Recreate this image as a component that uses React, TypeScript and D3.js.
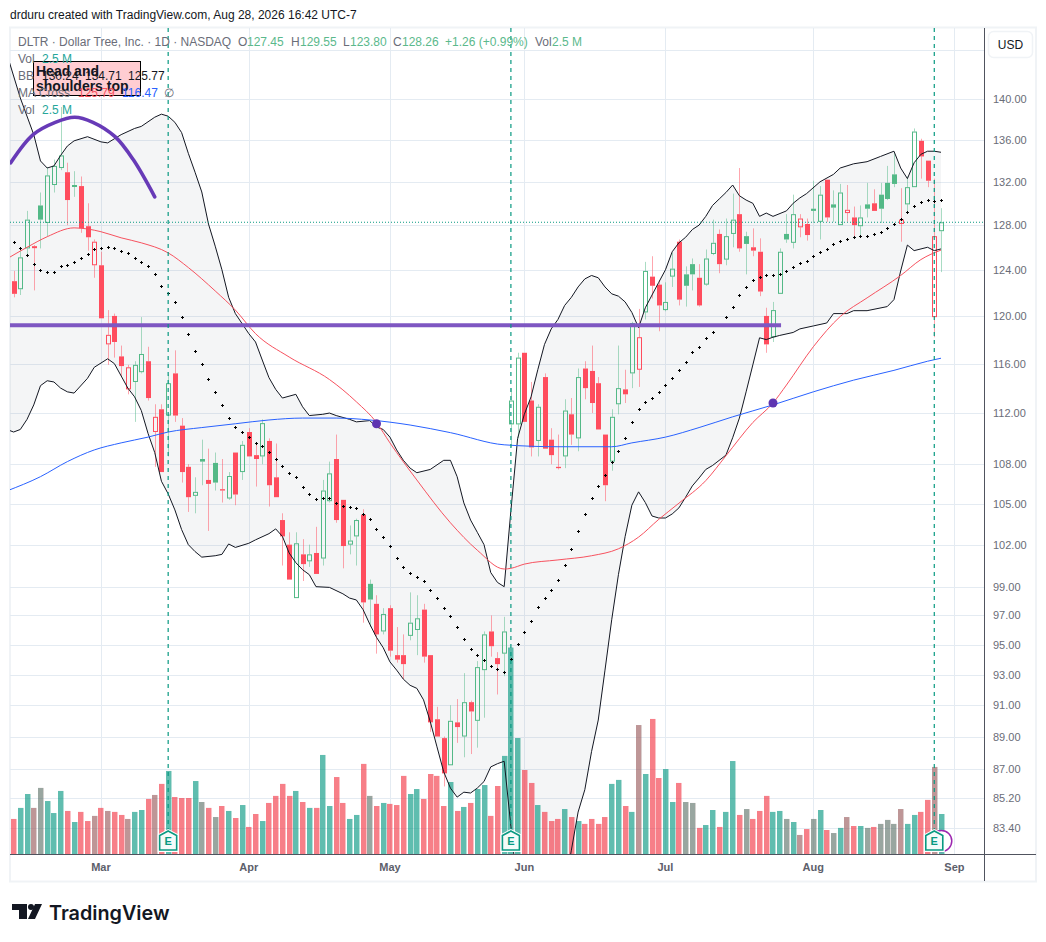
import React from "react";
import * as d3 from "d3";

const opens = [123.0,122.3,125.9,126.0,129.8,128.2,131.7,133.3,132.9,131.6,131.6,127.9,124.4,124.4,117.6,120.0,116.6,113.9,114.5,115.3,116.2,110.5,112.3,111.8,115.2,111.0,107.8,105.6,108.4,106.8,108.1,106.1,105.4,108.9,107.4,110.5,108.7,108.6,109.8,107.0,103.8,102.0,98.2,101.3,100.8,101.4,101.0,105.2,108.4,105.3,102.0,102.6,104.2,99.2,97.8,95.9,97.5,94.3,94.3,95.6,96.0,97.4,94.3,90.1,88.9,87.2,89.9,89.0,91.2,90.0,93.3,95.9,94.1,94.4,111.1,111.1,116.9,113.0,109.8,114.9,109.9,107.8,108.6,111.9,110.0,115.6,115.4,114.4,110.3,108.2,112.7,113.9,115.2,115.5,120.3,123.4,122.7,120.5,123.4,126.5,123.6,124.5,123.3,122.7,125.4,127.2,124.9,127.2,129.0,127.0,126.0,125.6,120.0,118.2,121.9,127.2,126.4,127.8,128.1,129.5,128.3,132.2,129.9,128.0,129.1,128.7,127.9,129.9,130.0,130.8,131.9,132.7,128.1,129.9,131.5,135.9,134.0,119.9,127.45];
const highs = [123.9,125.9,129.3,126.2,131.0,133.4,134.1,139.2,133.8,133.0,132.5,130.0,126.7,125.6,120.5,120.2,117.5,115.9,116.2,119.9,117.4,112.7,112.7,115.1,117.1,111.6,108.0,107.0,109.9,109.2,108.9,108.4,107.4,108.9,109.8,110.8,109.7,111.5,110.0,109.6,104.3,102.9,102.9,102.4,102.0,103.3,106.8,108.2,110.3,105.3,103.4,103.9,104.6,99.5,98.4,97.5,97.7,96.2,95.7,98.6,98.4,97.8,94.3,90.9,89.0,91.0,91.4,93.1,91.3,93.9,95.9,97.0,94.5,96.9,114.0,116.9,116.9,114.5,112.7,115.2,110.8,110.3,113.1,113.2,115.6,116.2,117.5,114.9,110.3,112.3,117.5,115.5,119.5,120.6,124.7,125.2,123.1,122.9,125.5,126.7,124.3,125.0,124.5,125.8,128.5,127.6,128.6,130.9,133.3,127.4,127.7,126.8,120.7,121.2,125.9,129.0,130.8,129.0,128.6,132.1,131.6,132.2,131.2,131.8,131.7,129.7,129.8,131.9,131.3,131.9,133.5,134.7,131.4,132.5,137.1,136.1,134.0,132.3,129.55];
const lows = [121.6,121.8,125.3,122.2,125.9,127.0,131.0,133.1,128.0,130.6,127.3,125.7,123.3,119.8,115.9,116.5,114.9,113.5,111.3,115.2,113.0,107.8,107.4,108.6,111.3,106.6,104.4,104.3,106.4,103.0,106.0,105.1,105.3,104.9,106.8,108.6,106.3,108.0,104.8,105.5,100.5,99.5,98.2,99.4,100.4,99.9,100.5,105.1,103.6,100.3,101.3,100.5,96.5,96.2,94.4,95.7,94.2,93.8,92.7,95.3,94.3,93.8,89.3,89.0,85.9,87.2,88.6,87.7,87.9,88.3,90.2,94.2,91.7,92.9,109.3,110.0,111.3,108.6,108.6,109.2,108.0,107.6,107.7,109.5,109.0,113.1,112.0,110.7,105.2,107.5,111.9,112.8,114.0,114.1,119.7,121.5,118.7,120.4,122.5,120.9,120.8,122.2,120.8,122.6,125.3,123.7,124.4,126.0,125.6,123.6,125.2,121.7,116.9,117.8,121.9,126.4,125.9,126.9,126.6,128.2,126.7,128.3,128.3,128.0,128.3,127.0,127.1,128.7,129.3,128.2,130.3,131.5,126.5,129.1,131.5,132.3,131.5,118.2,123.80];
const closes = [121.9,125.1,128.5,126.1,128.5,132.6,133.5,134.5,130.3,131.7,127.7,126.9,126.5,119.8,118.4,117.8,115.8,115.7,115.9,116.8,113.2,111.7,107.4,114.4,111.8,107.4,105.5,105.9,108.2,106.5,106.6,106.0,107.1,105.7,109.5,108.6,108.4,111.2,106.4,105.5,102.6,99.5,102.1,100.6,101.3,99.9,106.0,107.3,103.8,101.9,102.3,103.8,97.9,98.1,95.7,97.1,94.6,94.0,93.7,96.5,96.8,94.2,89.9,89.0,86.7,90.0,89.6,91.2,90.6,93.5,95.7,94.9,93.7,95.9,113.0,116.5,111.3,109.3,112.5,109.2,108.7,107.7,112.2,110.3,114.9,114.0,112.8,110.7,106.4,111.7,114.0,113.5,119.4,118.2,123.9,122.6,120.9,121.2,124.1,121.4,122.6,123.6,120.9,125.0,126.4,124.5,127.0,128.5,125.9,126.3,125.7,122.1,117.6,120.5,125.6,126.7,129.0,128.6,127.1,129.3,130.8,128.7,129.6,131.0,129.4,128.0,128.7,129.5,129.3,129.5,130.4,131.8,128.5,131.5,136.8,134.4,132.1,127.0,128.26];
const volumesM = [2.19,2.88,3.75,2.88,4.13,3.31,2.56,3.94,2.69,2.0,2.63,2.06,2.38,2.88,2.69,2.63,2.44,2.19,2.63,2.75,3.44,3.69,4.38,5.19,3.56,3.5,3.5,4.56,3.25,2.88,2.31,3.0,2.69,2.25,3.06,1.69,2.5,2.06,3.19,3.63,4.38,3.63,3.94,3.25,2.88,2.88,6.19,3.0,4.81,3.19,2.19,2.44,5.63,3.63,3.0,3.19,3.13,3.06,4.88,3.75,4.06,3.44,5.0,4.88,3.0,4.5,2.69,2.94,3.19,4.06,4.31,2.38,4.25,6.13,12.9,7.25,5.25,4.44,3.06,2.63,2.06,2.19,2.81,2.31,2.06,1.88,2.19,1.88,2.31,4.38,4.63,3.0,2.63,8.06,5.0,8.44,4.75,5.31,3.25,4.44,3.25,3.19,1.63,1.81,2.75,1.69,2.63,5.81,2.44,2.81,2.19,2.69,3.63,2.63,2.69,2.19,2.0,1.19,1.56,2.19,2.75,1.5,1.31,1.63,2.31,1.75,1.75,1.63,1.69,1.88,2.13,1.88,2.81,1.88,2.44,2.63,3.38,5.44,2.5];

const bbMiddle = [126.48,125.94,125.32,124.5,123.96,123.78,123.78,124.36,124.45,124.7,125.06,125.41,125.85,125.94,126.03,125.94,125.67,125.5,125.06,124.7,124.36,123.65,122.6,122,121.2,119.9,118.5,117.05,116,114.75,113.7,112.65,111.6,110.9,110.5,110.1,109.65,109.4,108.95,108.4,107.9,107.3,107,106.3,105.75,105.35,105.45,105.45,105.05,104.85,104.75,104.7,104.25,103.9,103.15,102.55,101.9,101.05,100.4,99.95,99.7,99.4,98.8,98.2,97.5,96.95,96.2,95.4,94.7,94.3,94,93.55,93.35,93.2,94.05,95.05,95.85,96.6,97.6,98.2,98.8,99.5,100.55,101.7,103,104.25,105.45,106.35,107.2,108.15,109,110,111.25,112.35,112.9,113.2,113.7,114.25,114.8,115.45,116.15,116.95,117.4,118.15,118.65,119.25,119.9,120.8,121.8,122.5,123.1,123.4,123.5,123.55,123.65,123.9,124.25,124.6,124.8,125.25,125.6,125.85,126.3,126.55,126.75,126.95,127.05,127.05,127.2,127.4,127.7,128.1,128.6,129.2,129.75,130.15,130.3,130.2,130.3];

const upperBars = [-1,1,3,4,5,6,7,8,9,11,13,14,16,18,19,21,22,23,24,25,26,27,28,29,30,31,32,33,35,36,37,38,39,40,42,43,44,46,47,48,50,51,53,54,55,56,57,58,59,60,62,64,65,66,67,68,69,70,71,72,73,74,75,76,77,78,79,80,81,82,83,84,85,86,87,88,89,90,91,92,93,94,95,96,97,98,99,100,101,102,103,104,105,106,107,108,109,110,111,112,113,115,116,117,118,120,122,123,125,127,129,131,132,133,134,135,136,137,138];
const upperValues = [144.55,140.1,136.5,133.97,133.3,133.5,134.5,135.4,135.9,136.3,135.8,135.7,136.5,137.1,137.3,138.2,138.5,138.3,137.7,136.7,134.7,132.9,131.05,128.1,126.1,124,121.6,120.2,118.5,117.8,116.3,114.85,113.9,113.2,113.5,112.5,111.8,111.9,112,111.8,111.5,111.3,111.4,110.9,110.7,110.1,109.1,108.3,107.7,107.35,107.6,108.3,108.3,107.05,105.07,103.8,102.9,102,100,99.3,99,104.5,110,111.9,113.3,115.5,117.6,118.9,119.7,120.9,121.6,122.5,123.2,123.5,123.3,122.5,121.9,121.7,121.2,120.3,119,120.7,121.8,122.9,124,125.6,126.4,126.9,127.6,128,128.8,129.8,130.4,131,131.7,130.7,130.3,130,128.8,129.1,128.8,129.3,130,130.5,130.9,132,132.7,133.3,133.7,133.9,134.4,134.9,133.3,132.3,133.8,134.6,134.9,134.9,134.8];

const lowerBars = [-1,0,1,2,3,4,5,6,7,8,9,11,12,14,15,17,18,19,20,21,22,23,24,25,26,27,28,30,31,32,33,35,36,38,39,40,41,42,43,44,45,47,49,50,51,52,53,54,55,56,57,58,59,60,61,62,63,64,65,66,67,68,69,70,71,72,73,74,75,77,79,81,82,83,84,85,86,87,88,89,90,91,92,93,94,95,96,97,98,99,100,101,102,103,104,106,107,108,109,110,111,112,113,114,116,117,119,121,122,124,125,127,130,131,132,133,134,136,137,138];
const lowerValues = [110.7,110.5,110.7,111.5,112.65,114.2,114.6,114.5,114,113.7,113.6,114.8,115.7,116.4,116,114,113.3,112.2,110.4,108.9,106.7,105.75,104.55,103.1,102,101.5,101.1,101.2,101.3,102.05,101.8,102.1,102.35,102.8,103.15,102.6,101.4,100.7,100.2,99.85,99,98.95,98.5,98.2,98.07,97.4,96.4,95.5,94.8,93.85,93.3,92.7,92.3,92.1,91.35,89.95,88.35,86.8,85.8,85.25,85.55,85.5,85.8,86.2,87.1,87.3,87.45,83.5,79.8,77.6,76.5,77.6,79.8,82.1,84.35,85.7,88.05,90.05,93.3,96.7,99.85,102.6,104.9,105.9,105.1,104.1,103.95,103.95,104.25,104.7,105.5,106.35,106.95,107.6,107.9,108.7,110.05,111.6,113.7,115.9,118.15,118,118.2,118.35,118.6,118.9,119.15,119.4,120.2,120.2,120.45,120.45,120.8,121.4,123.9,126.2,125.7,126,125.7,125.85];

const ma50Bars = [-1,2,5,9,11,13,16,19,23,26,30,33,36,41,47,51,54,56,60,65,69,73,74,76,81,86,90,93,96,99,103,106,110,113,115,119,123,127,132,135,138];
const ma50Values = [124.97,126,126.95,127.75,127.65,127.4,126.85,126.4,125.5,124.2,122.15,120.5,118.5,116.55,114.7,112.9,111.25,109.65,106.8,103.6,101.6,100.25,100.3,100.6,100.9,101.2,101.7,102.55,103.85,105.05,106.75,108.65,111.25,112.8,114.25,117.4,119.95,121.55,123.5,124.9,125.75];
const ma200Bars = [-1,4,8,12,16,20,23,28,33,38,43,48,53,59,65,73,81,89,92,97,102,107,113,119,125,131,136,138];
const ma200Values = [105.97,107.05,108.2,109.1,109.65,110.1,110.5,110.85,111.15,111.45,111.6,111.6,111.45,111.05,110.45,109.5,109.35,109.35,109.65,110.1,110.85,111.7,112.65,113.7,114.65,115.45,116.2,116.45];

const arcBars = [-0.43,2.9,6.2,9.1,11.8,15.1,17.8,21];
const arcPrices = [133.8,136.5,137.7,138.2,137.7,136.3,134.1,130.6];
const necklinePrice = 119.2;
const necklineEndBar = 114.2;
const crossBars = [54,113];
const crossPrices = [111.15,112.8];
const earningsBars = [23,74,137];
const lastPrice = 128.26;

const priceTicks = [140,136,132,128,124,120,116,112,108,105,102,99,97,95,93,91,89,87,85.2,83.4];
const extraGridPrice = 145;
const monthLabels = ["Mar","Apr","May","Jun","Jul","Aug","Sep"];
const monthBars = [13,35,56,76,97,119,140];

const SANS = "'Liberation Sans', Arial, sans-serif";
const GREEN = "#53b987", RED = "#ff4d5e", GRID = "#e4ebf2", AXIS = "#50535e", GRAY = "#6a6d78", TEAL = "#089981";
const L = 10, R = 984, T = 28, B = 854;

const x = d3.scaleLinear().domain([0, 138]).range([13.6, 941]);
const y = d3.scaleLog().domain([83.4, 140]).range([828, 99]);
const v = d3.scaleLinear().domain([0, 10]).range([B, 694]);

const linePath = (bars: number[], vals: number[], curve: any = d3.curveLinear) =>
  d3.line<number>().x((b) => x(b)).y((_, i) => y(vals[i])).curve(curve)(bars) as string;

const bandPath = (() => {
  const pts: [number, number][] = [
    ...upperBars.map((b, i) => [x(b), y(upperValues[i])] as [number, number]),
    ...lowerBars.map((b, i) => [x(b), y(lowerValues[i])] as [number, number]).reverse(),
  ];
  return d3.line()(pts) + "Z";
})();

function Badge({ bar }: { bar: number }) {
  const c = x(bar);
  const outer = `M${c},829 L${c + 10.5},834.5 V852 H${c - 10.5} V834.5 Z`;
  const inner = `M${c},831 L${c + 8.5},835.5 V850 H${c - 8.5} V835.5 Z`;
  return (
    <g>
      <path d={outer} fill="#fff" />
      <path d={inner} fill="#f4fbf9" stroke={TEAL} strokeWidth={1.6} />
      <text x={c} y={845.3} textAnchor="middle" fontFamily={SANS} fontSize={11} fontWeight={700} fill={TEAL}>E</text>
    </g>
  );
}

export default function App() {
  const clipId = "plot";
  return (
    <svg width={1046} height={942} viewBox="0 0 1046 942" style={{ position: "absolute", left: 0, top: 0, background: "#fff" }}>
      <defs>
        <clipPath id={clipId}><rect x={L} y={T} width={R - L} height={B - T} /></clipPath>
      </defs>
      <text x={10} y={19} fontFamily={SANS} fontSize={12} fill="#131722">drduru created with TradingView.com, Aug 28, 2026 16:42 UTC-7</text>
      <rect x={10} y={27.5} width={1026} height={854} fill="#fff" stroke="#f0f3f6" strokeWidth={2} />

      {[...priceTicks, extraGridPrice].map((p) => (
        <line key={p} x1={L} x2={R} y1={Math.round(y(p)) + 0.5} y2={Math.round(y(p)) + 0.5} stroke={GRID} />
      ))}
      {monthBars.map((b) => (
        <line key={b} x1={Math.round(x(b)) + 0.5} x2={Math.round(x(b)) + 0.5} y1={T} y2={B} stroke={GRID} />
      ))}

      <g clipPath={`url(#${clipId})`}>
        <path d={bandPath} fill="#787b86" fillOpacity={0.08} />

        {volumesM.map((m, i) => {
          const top = v(m);
          const left = Math.round(x(i) - 2.5);
          const byOpen = closes[i] >= opens[i] ? TEAL : "#f23645";
          const byPrev = i === 0 ? "#f23645" : closes[i] >= closes[i - 1] ? TEAL : "#f23645";
          return (
            <g key={i}>
              <rect x={left} width={5.4} y={top} height={B - top} fill={byOpen} fillOpacity={0.4} />
              <rect x={left} width={5.4} y={top} height={B - top} fill={byPrev} fillOpacity={0.4} />
            </g>
          );
        })}

        {closes.map((c, i) => {
          const o = opens[i];
          const up = i > 0 && c >= closes[i - 1];
          const col = up ? GREEN : RED;
          const hollow = c > o;
          const top = y(Math.max(o, c));
          const bot = y(Math.min(o, c));
          const cx = Math.round(x(i)) + 0.5;
          return (
            <g key={i}>
              <line x1={cx} x2={cx} y1={y(highs[i])} y2={top} stroke={col} strokeOpacity={0.5} />
              <line x1={cx} x2={cx} y1={bot} y2={y(lows[i])} stroke={col} strokeOpacity={0.5} />
              {hollow ? (
                <rect x={cx - 2} width={4} y={top + 0.5} height={Math.max(bot - top - 1, 1)} fill="none" stroke={col} strokeWidth={1} />
              ) : (
                <rect x={cx - 2.5} width={5} y={top} height={Math.max(bot - top, 1.2)} fill={col} />
              )}
            </g>
          );
        })}

        <path d={linePath(upperBars, upperValues)} fill="none" stroke="#131722" strokeWidth={1} />
        <path d={linePath(lowerBars, lowerValues)} fill="none" stroke="#131722" strokeWidth={1} />
        <path d={linePath(ma50Bars, ma50Values, d3.curveMonotoneX)} fill="none" stroke="#f7525f" strokeWidth={1} />
        <path d={linePath(ma200Bars, ma200Values, d3.curveMonotoneX)} fill="none" stroke="#2962ff" strokeWidth={1} />

        {bbMiddle.map((p, i) => {
          const cx = Math.round(x(i)) + 0.5, cy = Math.round(y(p)) + 0.5;
          return <path key={i} d={`M${cx - 1.5},${cy}H${cx + 1.5}M${cx},${cy - 1.5}V${cy + 1.5}`} stroke="#000" strokeWidth={1} fill="none" />;
        })}

        <line x1={L} x2={R} y1={y(lastPrice)} y2={y(lastPrice)} stroke={TEAL} strokeDasharray="1 2" />

        <path d={linePath(arcBars, arcPrices, d3.curveCatmullRom)} fill="none" stroke="#673ab7" strokeWidth={3.6} strokeLinecap="round" />
        <line x1={L} x2={x(necklineEndBar)} y1={y(necklinePrice)} y2={y(necklinePrice)} stroke="#7e57c2" strokeWidth={4} />
        {crossBars.map((b, i) => (
          <circle key={b} cx={x(b)} cy={y(crossPrices[i])} r={4.5} fill="#5e35b1" />
        ))}

        {earningsBars.map((b) => (
          <line key={b} x1={x(b)} x2={x(b)} y1={T} y2={832} stroke={TEAL} strokeWidth={1.2} strokeDasharray="4 4" />
        ))}
        <circle cx={x(137) + 7} cy={841} r={10.5} fill="#fff" stroke="#9c27b0" strokeWidth={1.5} />
        {earningsBars.map((b) => <Badge key={b} bar={b} />)}
      </g>

      <line x1={L} x2={1036} y1={854.5} y2={854.5} stroke={AXIS} />
      <line x1={984.5} x2={984.5} y1={T} y2={881} stroke={AXIS} />

      {priceTicks.map((p) => (
        <text key={p} x={993} y={y(p) + 4} fontFamily={SANS} fontSize={11} fill={GRAY}>{p.toFixed(2)}</text>
      ))}
      {monthLabels.map((m, i) => (
        <text key={m} x={x(monthBars[i])} y={871} textAnchor="middle" fontFamily={SANS} fontSize={11} fontWeight={700} fill="#5d606b">{m}</text>
      ))}

      <rect x={988.5} y={31.5} width={44} height={26} rx={5} fill="#fff" stroke="#f0f3f6" strokeWidth={1.5} />
      <text x={1010.5} y={49} textAnchor="middle" fontFamily={SANS} fontSize={12} fill="#131722">USD</text>

      <rect x={33.5} y={61.5} width={107} height={34} fill="#ffcdd2" stroke="#000" />
      <text fontFamily={SANS} fontSize={14} fontWeight={700} fill="#131722">
        <tspan x={36} y={76}>Head and</tspan>
        <tspan x={36} y={91}>shoulders top</tspan>
      </text>

      <g fontFamily={SANS} fontSize={12}>
        <text x={18} y={46} fill={GRAY}>DLTR · Dollar Tree, Inc. · 1D · NASDAQ</text>
        <text y={46} fill={GRAY}><tspan x={238}>O</tspan><tspan x={291}>H</tspan><tspan x={343}>L</tspan><tspan x={393}>C</tspan><tspan x={535}>Vol</tspan></text>
        <text y={46} fill="#5bb98c"><tspan x={247}>127.45</tspan><tspan x={300}>129.55</tspan><tspan x={350}>123.80</tspan><tspan x={402}>128.26</tspan><tspan x={445}>+1.26 (+0.99%)</tspan><tspan x={552}>2.5 M</tspan></text>
        <text y={63} fill={GRAY}><tspan x={18}>Vol</tspan></text>
        <text x={42} y={63} fill="#26a69a">2.5 M</text>
        <text x={18} y={80} fill={GRAY}>BB</text>
        <text y={80} fill="#131722"><tspan x={42}>130.24</tspan><tspan x={85}>134.71</tspan><tspan x={128}>125.77</tspan></text>
        <text x={18} y={97} fill={GRAY}>MA Cross</text>
        <text x={78} y={97} fill="#f7525f">125.79</text>
        <text x={122} y={97} fill="#2962ff">116.47</text>
        <text x={164} y={97} fill={GRAY}>∅</text>
        <text x={18} y={114} fill={GRAY}>Vol</text>
        <text x={42} y={114} fill="#26a69a">2.5 M</text>
      </g>

      <g fill="#131722">
        <path d="M12,904 H27 V919 H19 V910 H12 Z" />
        <circle cx={31} cy={907} r={3} />
        <path d="M35,904 H42 L35,919 H28 Z" />
      </g>
      <text x={49} y={919.5} fontFamily="Inter, 'Noto Sans', sans-serif" fontSize={19.8} fontWeight={600} fill="#131722">TradingView</text>
    </svg>
  );
}
